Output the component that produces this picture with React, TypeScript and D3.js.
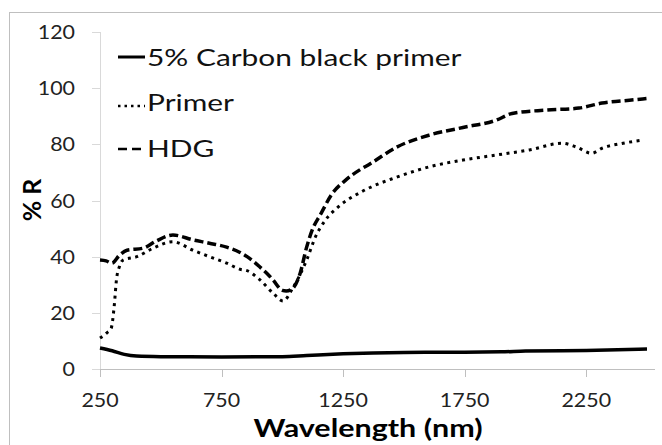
import React from "react";
import * as d3 from "d3";

// Reflectance spectra
const carbonWl = [250, 300, 350, 400, 500, 750, 1000, 1100, 1250, 1500, 1750, 1900, 2000, 2250, 2500];
const carbonR = [7.5, 6.5, 5.2, 4.6, 4.4, 4.3, 4.4, 4.8, 5.4, 5.9, 6.0, 6.1, 6.4, 6.6, 7.1];

const primerWl = [250, 280, 296, 308, 318, 330, 345, 402, 468, 550, 632, 700, 771, 826, 855, 908, 962, 1003, 1044, 1100, 1136, 1177, 1230, 1330, 1470, 1605, 1743, 1880, 2016, 2152, 2210, 2272, 2315, 2402, 2484];
const primerR = [11, 13, 14.5, 22, 32, 36.5, 38.8, 40, 43, 45.3, 42.3, 40, 37.7, 35.5, 35, 31.7, 27, 24.2, 29, 38.8, 47, 53, 57.7, 63.3, 68.3, 72, 74.4, 76.2, 78, 80.4, 79, 76.8, 78.6, 80.4, 81.5];

const hdgWl = [250, 275, 299, 330, 361, 427, 480, 550, 632, 700, 771, 826, 855, 908, 937, 962, 1000, 1016, 1040, 1073, 1100, 1123, 1160, 1200, 1264, 1320, 1360, 1470, 1605, 1743, 1880, 1945, 2085, 2220, 2315, 2428, 2500];
const hdgR = [38.8, 38.5, 37.7, 40.5, 42.3, 43, 45.5, 47.7, 46, 44.8, 43.4, 41.5, 40, 36.3, 34, 31.7, 28, 27.8, 28.5, 34, 43.4, 49.5, 55.5, 61.8, 67.5, 71, 73, 79, 83.3, 86, 88.6, 91, 92.2, 92.9, 94.7, 95.7, 96.3];

const xTicks = [250, 750, 1250, 1750, 2250];
const yTicks = [0, 20, 40, 60, 80, 100, 120];

const legendLabels = ["5% Carbon black primer", "Primer", "HDG"];

const FONT = "Lato, 'Open Sans', sans-serif";

export default function App() {
  const width = 662;
  const height = 445;

  const x = d3.scaleLinear().domain([250, 2500]).range([100, 647]);
  const y = d3.scaleLinear().domain([0, 120]).range([369, 32]);

  const line = (wl: number[], r: number[]) =>
    d3
      .line<number>()
      .x((_, i) => x(wl[i]))
      .y((d) => y(d))
      .curve(d3.curveMonotoneX)(r) as string;

  const series = [
    { d: line(carbonWl, carbonR), dash: null, w: 3.5 },
    { d: line(primerWl, primerR), dash: "3,4.5", w: 3 },
    { d: line(hdgWl, hdgR), dash: "9,4", w: 3.5 },
  ];

  const legendBase = [66, 111, 157];
  const legendSample = [
    { dy: -9, dash: null, w: 3 },
    { dy: -5, dash: "2.5,4", w: 2.5 },
    { dy: -8, dash: "9,5", w: 2.5 },
  ];

  return (
    <svg
      width={width}
      height={height}
      style={{ position: "absolute", left: 0, top: 0, background: "#fff" }}
    >
      <rect x={0} y={0} width={width} height={height} fill="#fff" />
      {/* chart frame */}
      <rect x={9.5} y={12.5} width={700} height={500} fill="none" stroke="#bfbfbf" />

      {/* y axis */}
      <line x1={100.5} x2={100.5} y1={y(120)} y2={y(0)} stroke="#d9d9d9" />
      {yTicks.map((t) => (
        <g key={t}>
          <line x1={92} x2={100} y1={Math.round(y(t)) + 0.5} y2={Math.round(y(t)) + 0.5} stroke="#d9d9d9" />
          <text
            transform={`translate(75,${y(t) + 7}) scale(1.07,1)`}
            textAnchor="end"
            fontFamily={FONT}
            fontSize={20}
            fill="#222"
          >
            {t}
          </text>
        </g>
      ))}

      {/* x axis */}
      <line x1={100} x2={655} y1={369.5} y2={369.5} stroke="#bfbfbf" />
      {xTicks.map((t) => (
        <g key={t}>
          <line x1={Math.round(x(t)) + 0.5} x2={Math.round(x(t)) + 0.5} y1={369} y2={377} stroke="#bfbfbf" />
          <text
            transform={`translate(${x(t)},407) scale(1.07,1)`}
            textAnchor="middle"
            fontFamily={FONT}
            fontSize={20}
            fill="#222"
          >
            {t}
          </text>
        </g>
      ))}

      {/* series */}
      {series.map((s, i) => (
        <path
          key={i}
          d={s.d}
          fill="none"
          stroke="#000"
          strokeWidth={s.w}
          strokeDasharray={s.dash ?? undefined}
          strokeLinejoin="round"
        />
      ))}

      {/* legend */}
      {legendLabels.map((lab, i) => (
        <g key={lab}>
          <line
            x1={118}
            x2={145}
            y1={legendBase[i] + legendSample[i].dy}
            y2={legendBase[i] + legendSample[i].dy}
            stroke="#000"
            strokeWidth={legendSample[i].w}
            strokeDasharray={legendSample[i].dash ?? undefined}
          />
          <text
            transform={`translate(147,${legendBase[i]}) scale(1.3,1)`}
            fontFamily={FONT}
            fontSize={23}
            fill="#111"
          >
            {lab}
          </text>
        </g>
      ))}

      {/* axis titles */}
      <text
        transform="translate(368,437) scale(1.22,1)"
        textAnchor="middle"
        fontFamily={FONT}
        fontWeight="bold"
        fontSize={25}
        fill="#000"
      >
        Wavelength (nm)
      </text>
      <text
        transform="translate(41,200) rotate(-90)"
        textAnchor="middle"
        fontFamily={FONT}
        fontWeight="bold"
        fontSize={25}
        fill="#000"
      >
        % R
      </text>
    </svg>
  );
}
